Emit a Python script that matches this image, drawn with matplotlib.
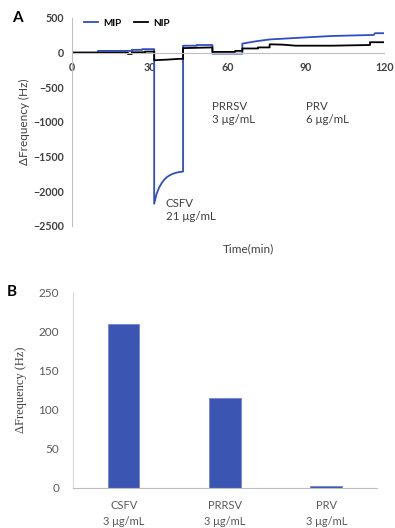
import matplotlib
matplotlib.use("Agg")
import matplotlib.pyplot as plt

# panel A: frequency shift vs time
mip_time = [0, 10, 10, 23, 23, 27, 27, 31.6, 31.6, 32.5, 33.5, 34.5, 35.5, 36.5, 37.5, 38.5,
            39.5, 40.5, 41.5, 42.7, 42.7, 48, 48, 54, 54, 65.5, 65.5, 71, 76, 90, 100, 116,
            116.5, 120]
mip_freq = [0, 0, 25, 25, 40, 40, 50, 50, -2180, -2040, -1945, -1880, -1830, -1795, -1770, -1752,
            -1738, -1728, -1721, -1715, 100, 100, 110, 110, -15, -15, 130, 165, 190, 220, 240, 255,
            280, 280]
nip_time = [0, 21.5, 21.5, 23, 23, 28, 28, 31.6, 31.6, 37, 41, 42.7, 42.7, 54, 54, 62.7, 62.7,
            65.5, 65.5, 71.5, 71.5, 76, 76, 81, 86, 100, 114.6, 114.6, 120]
nip_freq = [0, 0, -20, -20, 5, 5, 15, 15, -110, -100, -90, -90, 65, 75, 10, 10, 25, 25, 60, 60,
            75, 75, 120, 115, 100, 100, 110, 150, 150]
a_labels = ["CSFV\n21 μg/mL", "PRRSV\n3 μg/mL", "PRV\n6 μg/mL"]
a_label_pos = [(36, -2100), (54, -700), (90, -700)]

# panel B: response to 3 ug/mL of each virus
viruses = ["CSFV", "PRRSV", "PRV"]
b_freq = [209, 115, 3]

plt.rcParams['font.family'] = ['Lato', 'DejaVu Sans']
grey = '#404040'

fig = plt.figure(figsize=(3.95, 5.28), dpi=100)

# ---- panel A
ax = fig.add_axes([0.1823, 0.572, 0.79, 0.394])
ax.plot(mip_time, mip_freq, color='#2F4EC2', lw=1.3, label='MIP')
ax.plot(nip_time, nip_freq, color='black', lw=1.3, label='NIP')
ax.set_xlim(0, 120)
ax.set_ylim(-2500, 500)
ax.set_xticks([0, 30, 60, 90, 120])
ax.set_yticks([500, 0, -500, -1000, -1500, -2000, -2500])
ax.spines['top'].set_visible(False)
ax.spines['right'].set_visible(False)
ax.spines['bottom'].set_position(('data', 0))
ax.spines['bottom'].set_color('#bfbfbf')
ax.spines['left'].set_color('#bfbfbf')
ax.tick_params(length=0, labelsize=7.7, colors=grey, pad=6)
ax.tick_params(axis='x', pad=7)
for lab in ax.get_xticklabels() + ax.get_yticklabels():
    lab.set_fontweight('bold')
ax.set_ylabel('ΔFrequency (Hz)', fontsize=8.5, color=grey, labelpad=2)
ax.legend(loc='upper left', bbox_to_anchor=(0.01, 1.04), ncol=2, frameon=False,
          handlelength=1.4, columnspacing=1.3, handletextpad=0.5,
          prop={'weight': 'bold', 'size': 7.2})
for txt, (tx, ty) in zip(a_labels, a_label_pos):
    ax.text(tx, ty, txt, fontsize=8.3, color=grey, va='top', linespacing=1.2)
fig.text(248 / 395, 1 - 249 / 528, 'Time(min)', fontsize=8.5, color=grey,
         ha='center', va='center')
fig.text(17 / 395, 1 - 18 / 528, 'A', fontsize=11, fontweight='bold',
         ha='center', va='center')

# ---- panel B
bx = fig.add_axes([0.1848, 0.0758, 0.7692, 0.371])
bx.bar(range(len(viruses)), b_freq, width=0.31, color='#3A56B2',
       edgecolor='#6F86D2', linewidth=0.6)
bx.set_xlim(-0.5, 2.5)
bx.set_ylim(0, 250)
bx.set_yticks([0, 50, 100, 150, 200, 250])
bx.set_xticks(range(len(viruses)))
bx.set_xticklabels([v + '\n3 μg/mL' for v in viruses], linespacing=1.5)
bx.spines['top'].set_visible(False)
bx.spines['right'].set_visible(False)
bx.spines['bottom'].set_color('#bfbfbf')
bx.spines['left'].set_color('#d9d9d9')
bx.tick_params(length=0, labelsize=8.5, colors='#595959')
bx.tick_params(axis='y', pad=10)
bx.tick_params(axis='x', labelsize=8, pad=9)
bx.set_ylabel('ΔFrequency (Hz)', fontsize=9, color='#404040',
              family=['Liberation Serif', 'DejaVu Serif'], labelpad=8)
fig.text(12 / 395, 1 - 292 / 528, 'B', fontsize=11, fontweight='bold',
         ha='center', va='center')

fig.savefig('out.png', dpi=100)
